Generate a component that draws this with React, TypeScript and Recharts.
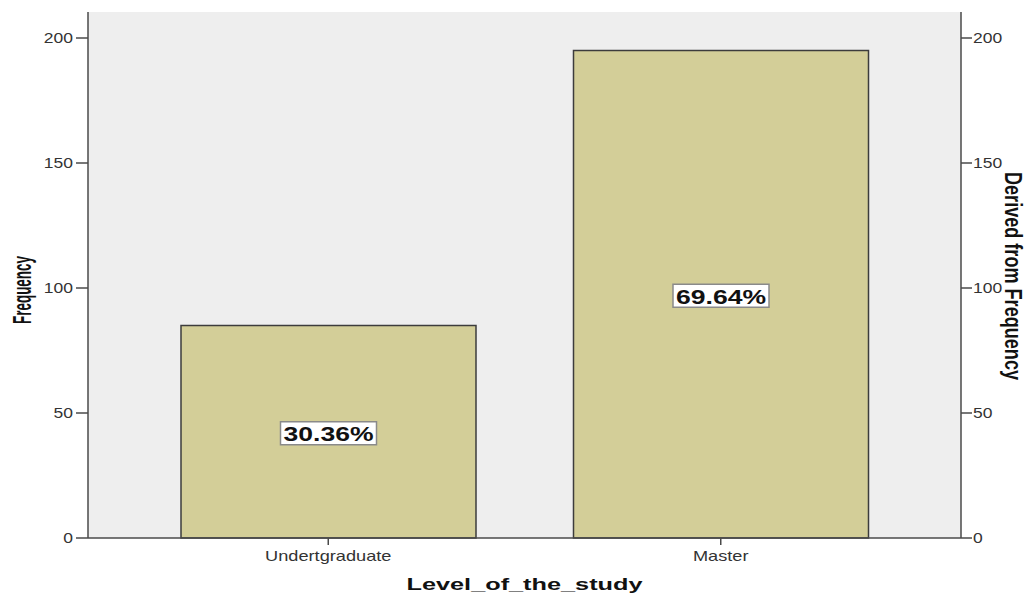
import { ComposedChart, Bar, Line, XAxis, YAxis, CartesianGrid, LabelList, Label } from 'recharts';

document.body.style.margin = '0';

const levels = ['Undertgraduate', 'Master'];
const frequencies = [85, 195];
const yTicks = [0, 50, 100, 150, 200];

const total = frequencies.reduce((a, b) => a + b, 0);
const data = levels.map((level, i) => ({
  level,
  count: frequencies[i],
  pct: (frequencies[i] / total) * 100,
}));

const FONT = '"Liberation Sans", Arial, Helvetica, sans-serif';
const AXIS = '#4a4a4a';
const TICK_TEXT = '#333';

function LeftTick({ x, y, payload }: any) {
  return (
    <g transform={`translate(${x},${y}) scale(1.25,1)`}>
      <text x={0} y={0} dy={5} textAnchor="end" fontSize={14} fontFamily={FONT} fill={TICK_TEXT}>
        {payload.value}
      </text>
    </g>
  );
}

function RightTick({ x, y, payload }: any) {
  return (
    <g transform={`translate(${x},${y}) scale(1.25,1)`}>
      <text x={0} y={0} dy={5} textAnchor="start" fontSize={14} fontFamily={FONT} fill={TICK_TEXT}>
        {payload.value}
      </text>
    </g>
  );
}

function BottomTick({ x, y, payload }: any) {
  return (
    <g transform={`translate(${x},${y}) scale(1.3,1)`}>
      <text x={0} y={0} dy={16} textAnchor="middle" fontSize={14} fontFamily={FONT} fill={TICK_TEXT}>
        {payload.value}
      </text>
    </g>
  );
}

// white boxed percentage in the middle of each bar
function PctLabel({ x, y, width, height, value }: any) {
  const cx = x + width / 2;
  const cy = y + height / 2 + 2;
  return (
    <g>
      <rect x={cx - 48} y={cy - 12} width={96} height={23} fill="#fff" stroke="#8a8a8a" strokeWidth={1.5} />
      <text
        x={cx}
        y={cy + 7.5}
        textAnchor="middle"
        fontSize={20}
        fontWeight="bold"
        fontFamily={FONT}
        fill="#111"
        textLength={90}
        lengthAdjust="spacingAndGlyphs"
      >
        {`${Number(value).toFixed(2)}%`}
      </text>
    </g>
  );
}

export default function App() {
  return (
    <div style={{ position: 'absolute', left: 0, top: 0, width: 1026, height: 596, background: '#fff' }}>
      <ComposedChart
        width={1026}
        height={596}
        data={data}
        margin={{ top: 12, right: 0, bottom: 0, left: 0 }}
        barSize={295}
      >
        <CartesianGrid xAxisId="bottom" yAxisId="left" horizontal={false} vertical={false} fill="#eeeeee" />
        <XAxis
          xAxisId="bottom"
          dataKey="level"
          height={58}
          padding={{ left: 44, right: 44 }}
          tickSize={7}
          tickMargin={0}
          tick={<BottomTick />}
          tickLine={{ stroke: AXIS, strokeWidth: 1.5 }}
          axisLine={{ stroke: AXIS, strokeWidth: 1.5 }}
        >
          <Label
            content={() => (
              <text
                x={524.5}
                y={590}
                textAnchor="middle"
                fontSize={17}
                fontWeight="bold"
                fontFamily={FONT}
                fill="#111"
                textLength={236}
                lengthAdjust="spacingAndGlyphs"
              >
                Level_of_the_study
              </text>
            )}
          />
        </XAxis>
        <XAxis
          xAxisId="top"
          dataKey="level"
          orientation="top"
          height={0}
          tick={false}
          tickLine={false}
          axisLine={{ stroke: '#6a6a6a', strokeWidth: 1.5 }}
        />
        <YAxis
          yAxisId="left"
          width={88}
          domain={[0, 210.4]}
          ticks={yTicks}
          tickSize={12}
          tickMargin={3}
          tick={<LeftTick />}
          tickLine={{ stroke: AXIS, strokeWidth: 1.5 }}
          axisLine={{ stroke: AXIS, strokeWidth: 1.5 }}
        >
          <Label
            content={() => (
              <text
                transform="translate(31,290) rotate(-90)"
                textAnchor="middle"
                fontSize={25}
                fontWeight="bold"
                fontFamily={FONT}
                fill="#111"
                textLength={68}
                lengthAdjust="spacingAndGlyphs"
              >
                Frequency
              </text>
            )}
          />
        </YAxis>
        <YAxis
          yAxisId="right"
          orientation="right"
          width={65}
          domain={[0, 210.4]}
          ticks={yTicks}
          tickSize={11}
          tickMargin={1}
          tick={<RightTick />}
          tickLine={{ stroke: AXIS, strokeWidth: 1.5 }}
          axisLine={{ stroke: AXIS, strokeWidth: 1.5 }}
        >
          <Label
            content={() => (
              <text
                transform="translate(1005,276) rotate(90)"
                textAnchor="middle"
                fontSize={23}
                fontWeight="bold"
                fontFamily={FONT}
                fill="#111"
                textLength={208}
                lengthAdjust="spacingAndGlyphs"
              >
                Derived from Frequency
              </text>
            )}
          />
        </YAxis>
        <Bar
          xAxisId="bottom"
          yAxisId="left"
          dataKey="count"
          fill="#d3ce98"
          stroke="#3c3c3c"
          strokeWidth={1.5}
          isAnimationActive={false}
        >
          <LabelList dataKey="pct" content={<PctLabel />} />
        </Bar>
        {/* the right-hand frequency scale mirrors the left one */}
        <Line
          xAxisId="bottom"
          yAxisId="right"
          dataKey="count"
          stroke="none"
          dot={false}
          activeDot={false}
          legendType="none"
          isAnimationActive={false}
        />
      </ComposedChart>
    </div>
  );
}
